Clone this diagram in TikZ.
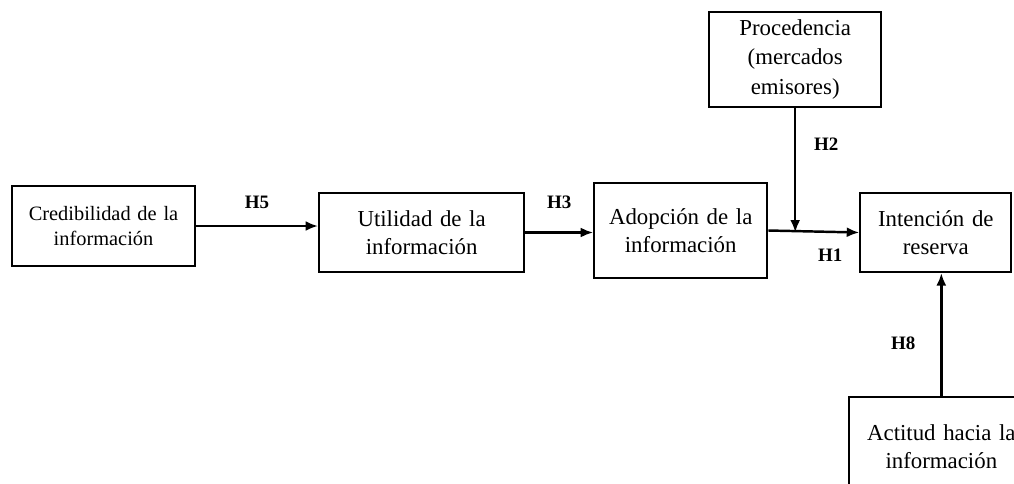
\documentclass[tikz,border=0pt]{standalone}
\usepackage{fontspec}
\setmainfont{Liberation Serif}
\usetikzlibrary{positioning,arrows.meta}

\begin{document}
\begin{tikzpicture}[
    box/.style={rectangle, draw=black, line width=1.2pt, text centered, inner xsep=0pt, font=\fontsize{13}{16}\selectfont},
    link/.style={-{Latex[length=0.25cm,width=0.2cm]}, line width=1.4pt},
    hyp/.style={font=\fontsize{10.8}{12}\selectfont\bfseries}
]
    % Page frame (the last box runs off the page)
    \clip (0,0) rectangle (20.28,-9.66);

    % Main chain - left to right
    \node [box, text width=3.66cm, minimum height=1.6cm, font=\fontsize{11.6}{14.5}\selectfont] (credib) at (2.07,-4.52) {
        Credibilidad de la\\
        información
    };
    \node [box, text width=4.1cm, minimum height=1.58cm, right=2.44cm of credib, yshift=-0.13cm] (utilidad) {
        Utilidad de la\\
        información
    };
    \node [box, text width=3.46cm, minimum height=1.9cm, right=1.36cm of utilidad, yshift=0.04cm] (adopcion) {
        Adopción de la\\
        información
    };
    \node [box, text width=3.02cm, minimum height=1.58cm, right=1.82cm of adopcion, yshift=-0.04cm] (intencion) {
        Intención de\\
        reserva
    };

    % Moderator above, attitude below
    \node [box, text width=3.44cm, minimum height=1.9cm, font=\fontsize{13}{17}\selectfont, above=1.48cm of adopcion, xshift=2.29cm] (proced) {
        Procedencia\\
        (mercados\\
        emisores)
    };
    \node [box, text width=3.68cm, minimum height=2.0cm, below=2.46cm of intencion, xshift=0.11cm] (actitud) {
        Actitud hacia la\\
        información
    };

    % Hypotheses
    \coordinate (join) at (proced.south |- intencion.west);
    \draw [link] (credib.east) -- (credib.east -| utilidad.west) node[midway, yshift=0.48cm, hyp] {H5};
    \draw [link] (utilidad.east) -- (utilidad.east -| adopcion.west) node[midway, yshift=0.6cm, hyp] {H3};
    \draw [link] (adopcion.east) -- (intencion.west) node[pos=0.68, yshift=-0.47cm, hyp] {H1};
    \draw [link] (proced.south) -- (join) node[pos=0.29, xshift=0.62cm, hyp] {H2};
    \draw [link] (actitud.north) -- (actitud.north |- intencion.south) node[pos=0.43, xshift=-0.76cm, hyp] {H8};

\end{tikzpicture}
\end{document}
